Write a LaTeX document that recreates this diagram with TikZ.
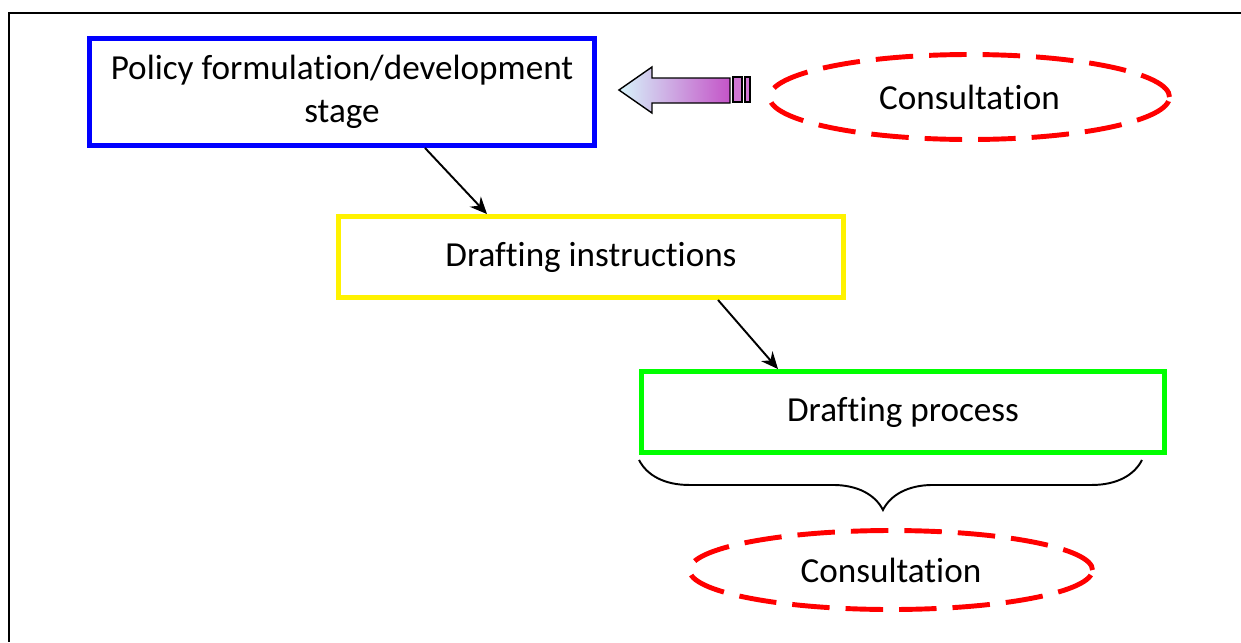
\documentclass[tikz,border=0pt]{standalone}
\usepackage{fontspec}
\setmainfont[Ligatures=NoCommon]{Carlito}
\usetikzlibrary{arrows.meta,positioning,shapes.geometric,decorations.pathreplacing}

\definecolor{arrowlight}{RGB}{214,244,250}
\definecolor{arrowdark}{RGB}{196,84,200}

\tikzset{
  stagebox/.style={draw,rectangle,line width=2.8pt,inner sep=0pt,
    minimum width=10.1cm,minimum height=1.62cm,align=center,
    font=\fontsize{20}{24.5}\selectfont},
  consult/.style={draw=red,ellipse,line width=2.8pt,inner sep=0pt,
    dash pattern=on 0.75cm off 0.32cm,
    font=\fontsize{20}{24.5}\selectfont}
}

\begin{document}
\begin{tikzpicture}[->,>={Stealth[length=3.4mm,width=3mm]},on grid]

\useasboundingbox (0,0) rectangle (24.82,-12.84);
\coordinate (frame_r) at (24.82,-0.26);
\coordinate (frame_c) at (0.18,-0.26);
\coordinate (frame_b) at (0.18,-12.84);
\draw[-,line width=1.7pt] (frame_r) -- (frame_c) -- (frame_b);

\node[stagebox,draw=blue,minimum height=2.14cm] (policy) at (6.84,-1.84)
  {Policy formulation/development\\stage};
\node[stagebox,draw=yellow] (instr) [below right=3.3cm and 4.98cm of policy]
  {Drafting instructions};
\node[stagebox,draw=green,minimum width=10.46cm] (drafting)
  [below right=3.1cm and 6.24cm of instr] {Drafting process};
\node[consult,minimum width=8cm,minimum height=1.7cm] (consult_a)
  [below right=0.1cm and 12.55cm of policy] {Consultation};
\node[consult,minimum width=8.06cm,minimum height=1.58cm] (consult_b)
  [below left=3.16cm and 0.24cm of drafting] {Consultation};

\draw[line width=1.1pt] ([xshift=1.66cm]policy.south) -- ([xshift=-2.08cm]instr.north);
\draw[line width=1.1pt] ([xshift=2.54cm]instr.south) -- ([xshift=-2.5cm]drafting.north);

% block arrow towards the policy box
\coordinate (tip) at ([xshift=0.44cm,yshift=0.04cm]policy.east);
\draw[-,line width=0.8pt,left color=arrowlight,right color=arrowdark]
  (tip) -- ++(0.66,0.46) -- ++(0,-0.22) -- ++(1.56,0) -- ++(0,-0.5)
  -- ++(-1.56,0) -- ++(0,-0.2) -- cycle;
\draw[-,line width=0.8pt,fill=arrowdark!80] ([xshift=2.28cm,yshift=0.26cm]tip)
  rectangle ++(0.18,-0.5);
\draw[-,line width=0.8pt,fill=arrowdark!80] ([xshift=2.52cm,yshift=0.26cm]tip)
  rectangle ++(0.1,-0.5);

% brace under the drafting process
\coordinate (brace_l) at ([yshift=-0.1cm]drafting.south west);
\coordinate (brace_r) at ([xshift=-0.5cm,yshift=-0.1cm]drafting.south east);
\draw[-,line width=1.1pt,decorate,
  decoration={brace,mirror,amplitude=1cm,aspect=0.485}] (brace_l) -- (brace_r);

\end{tikzpicture}
\end{document}
